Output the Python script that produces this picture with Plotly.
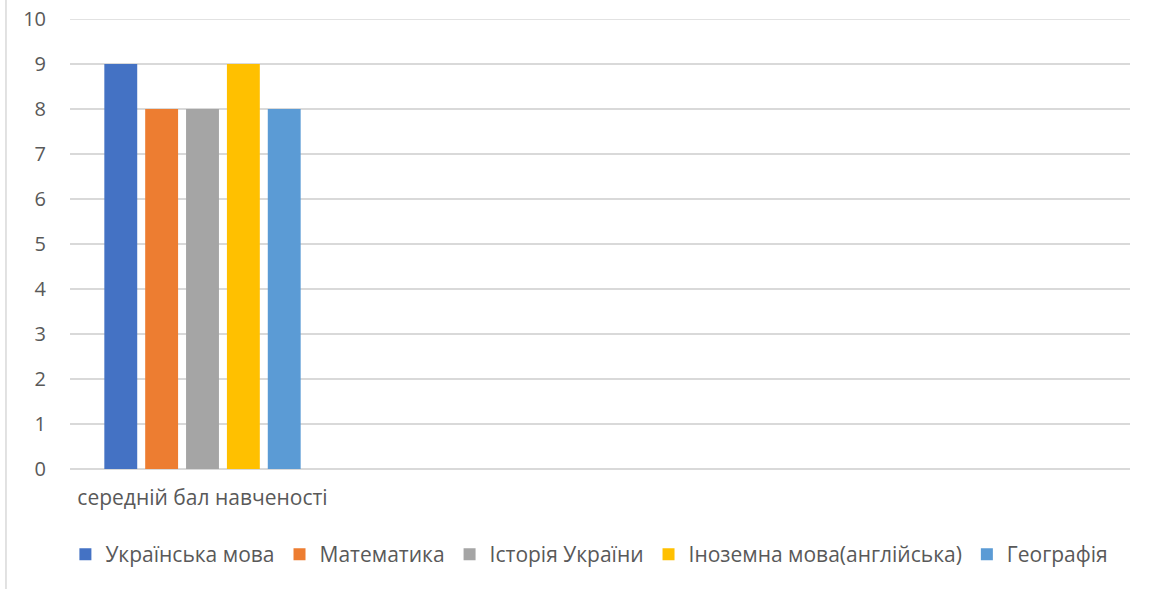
import plotly.graph_objects as go

categories = ["середній бал навченості"]
series_names = ["Українська мова", "Математика", "Історія України",
                "Іноземна мова(англійська)", "Географія"]
series_values = [[9], [8], [8], [9], [8]]
colors = ["#4472C4", "#ED7D31", "#A5A5A5", "#FFC000", "#5B9BD5"]
y_ticks = list(range(0, 11))

fig = go.Figure()
for name, vals, col in zip(series_names, series_values, colors):
    fig.add_trace(go.Bar(x=categories, y=vals, name=name, marker_color=col,
                         marker_line_width=0))

grid_col = "#D9D9D9"
text_col = "#595959"
font_family = "Open Sans, Noto Sans, sans-serif"
fig.update_layout(
    width=1149, height=589,
    margin=dict(l=70, r=19, t=19, b=120, autoexpand=False),
    paper_bgcolor="white", plot_bgcolor="white",
    barmode="group", bargap=0.229, bargroupgap=0.195,
    font=dict(family=font_family, color=text_col, size=20),
    xaxis=dict(type="category", range=[-0.5, 3.5], showgrid=False,
               showline=False, ticks="", ticklabelstandoff=14,
               automargin=False,
               tickfont=dict(size=21, color=text_col), fixedrange=True),
    yaxis=dict(range=[0, 10], tickvals=y_ticks, showgrid=True,
               gridcolor=grid_col, gridwidth=1.5, zeroline=True,
               zerolinecolor=grid_col, zerolinewidth=1.5, showline=False,
               ticks="", ticklabelstandoff=23, automargin=False,
               tickfont=dict(size=20, color=text_col)),
    legend=dict(orientation="h", x=0.49, xanchor="center", y=-0.19,
                yanchor="middle", font=dict(size=21, color=text_col),
                itemwidth=30, traceorder="normal", tracegroupgap=0),
    showlegend=True,
    shapes=[
        dict(type="line", xref="paper", yref="paper",
             x0=-0.0604, x1=-0.0604, y0=-0.3, y1=1.1,
             line=dict(color=grid_col, width=1.5)),
        dict(type="line", xref="paper", yref="y",
             x0=0, x1=1, y0=y_ticks[-1], y1=y_ticks[-1],
             line=dict(color=grid_col, width=1.5)),
    ],
)

fig.write_html("out.html", config={"displayModeBar": False},
               post_script="document.body.style.margin='0';")
